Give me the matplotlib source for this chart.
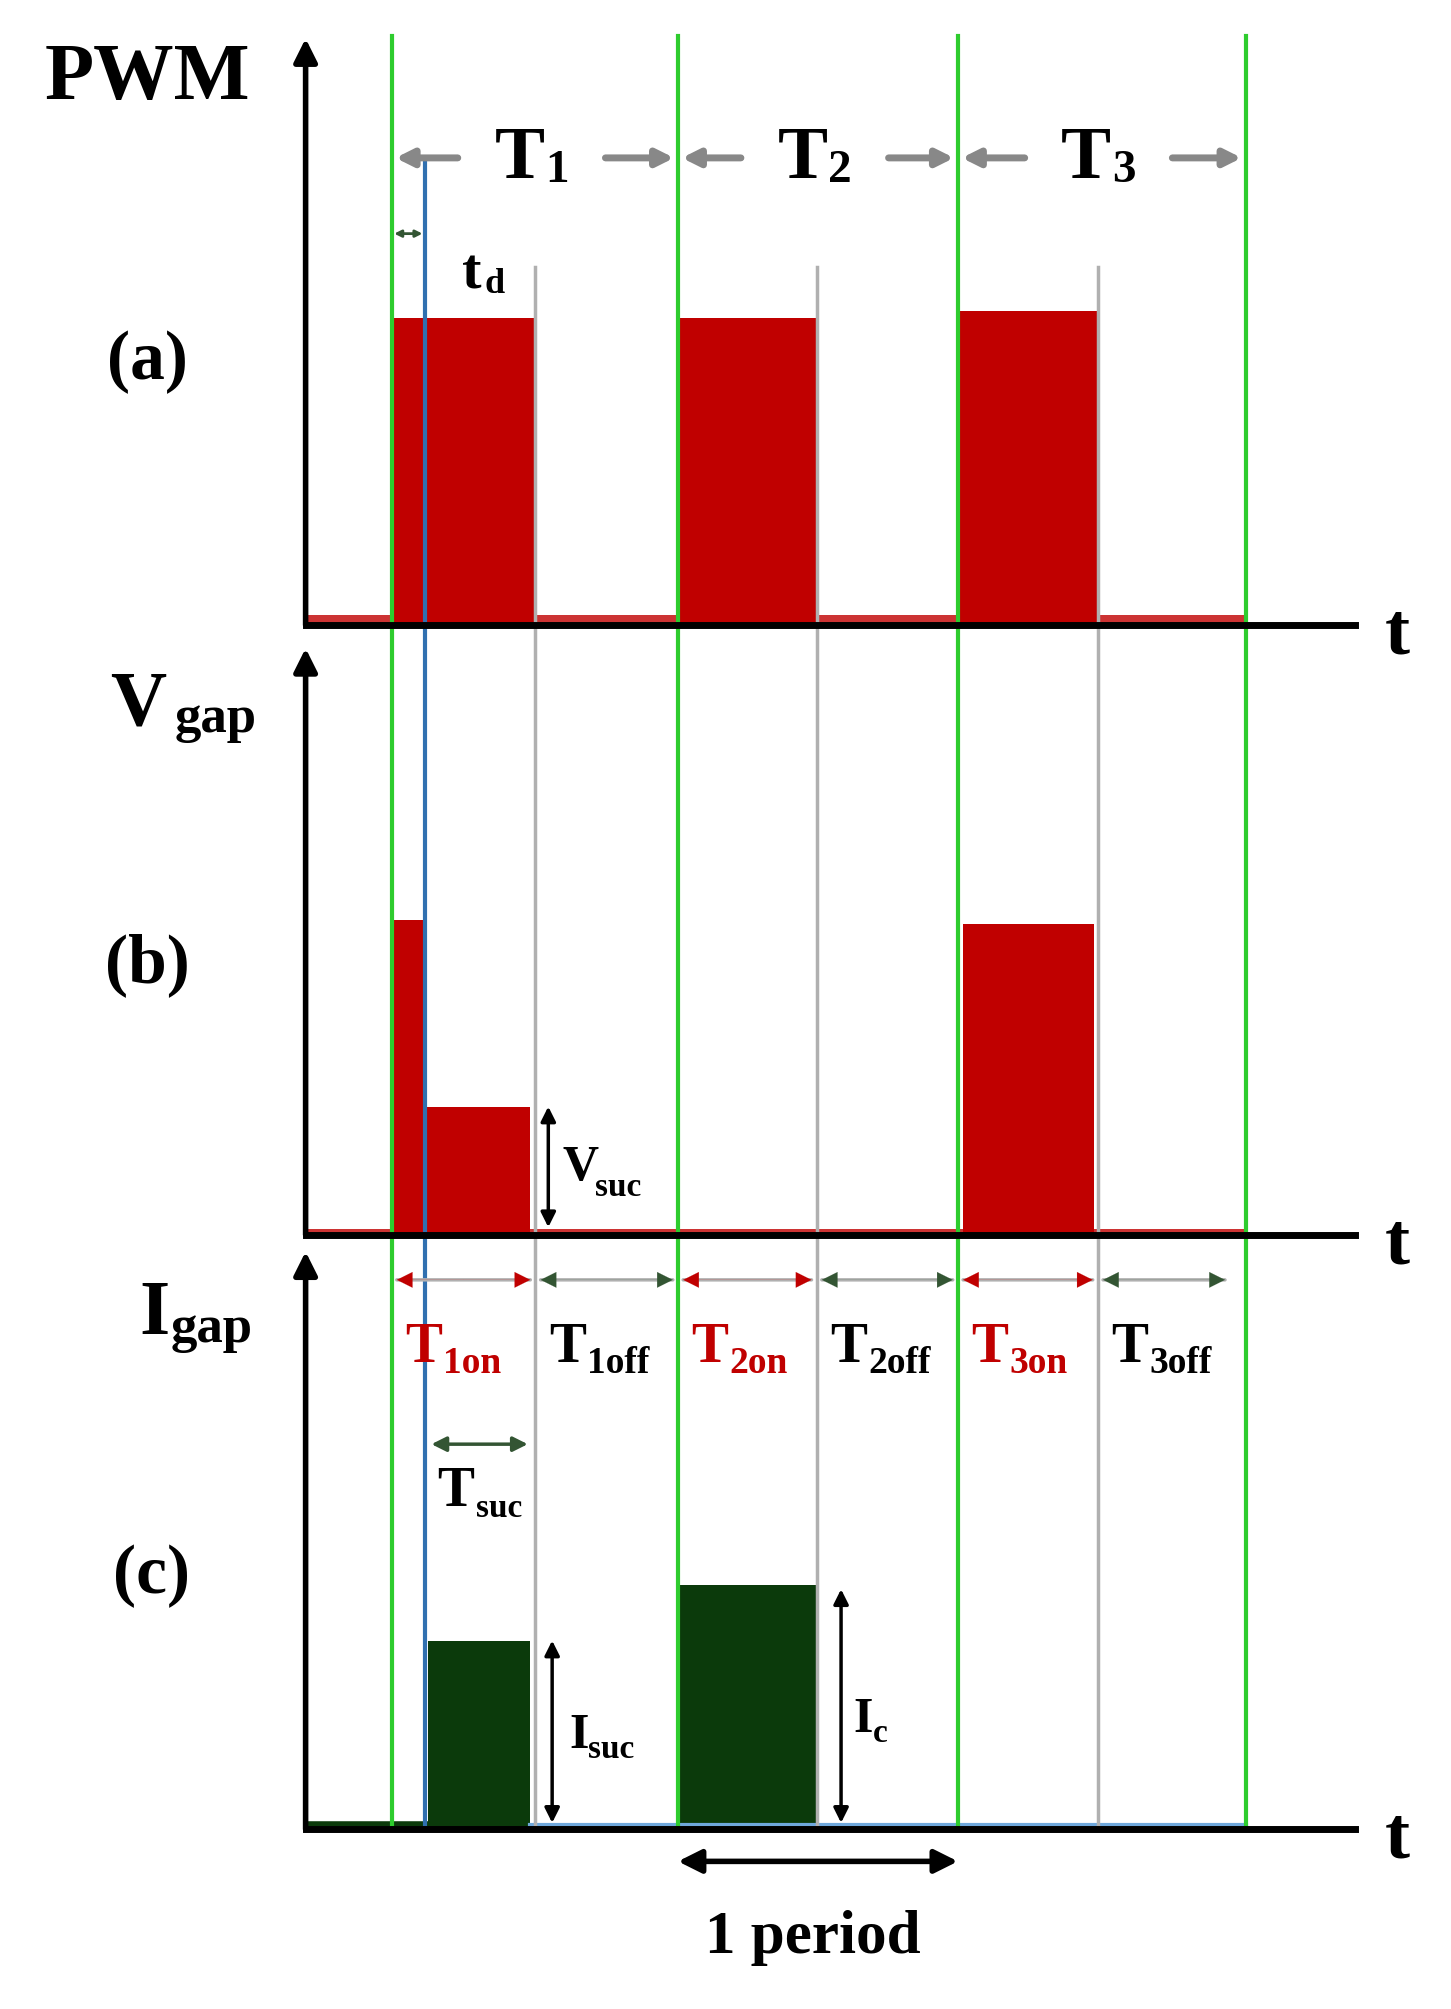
import matplotlib.pyplot as plt

# schematic time axis (drawing units, same for all three panels)
period_edges = [305, 528, 746, 970]      # green lines, start of T1, T2, T3, end
off_starts = [417, 636, 855]             # grey lines, end of on-time
td_line = 331                            # blue line, after delay td
pwm_tops = [248, 248, 242]
vgap_bars = [(305, 331, 717), (331, 413, 862), (750, 852, 720)]
igap_bars = [(333, 413, 1278), (528, 636, 1235)]
period_names = ['1', '2', '3']

bases = [487, 962, 1425]                 # baselines of panels a, b, c
axis_tops = [30, 505, 975]
RED = '#c00000'
DKGREEN = '#0b3a0b'
GREEN = '#2ecc2e'
GREY = '#b0b0b0'
SERIF = 'Liberation Serif'

fig = plt.figure(figsize=(14.51, 20.09), dpi=100)
ax = fig.add_axes([0, 0, 1, 1])
ax.set_xlim(0, 1130)
ax.set_ylim(1565, 0)
ax.axis('off')


def txt(x, y, s, size, color='black', ha='center'):
    ax.text(x, y, s, fontsize=size, color=color, family=SERIF, fontweight='bold',
            ha=ha, va='center')


def arrow(x0, y0, x1, y1, color='black', lw=3, style='<|-|>', ms=25):
    ax.annotate('', xy=(x1, y1), xytext=(x0, y0),
                arrowprops=dict(arrowstyle=style, color=color, lw=lw,
                                mutation_scale=ms, shrinkA=0, shrinkB=0))


# panel a: PWM bars and low strip
for i in range(3):
    ax.fill_between([period_edges[i], off_starts[i]], pwm_tops[i], bases[0], color=RED, lw=0)
strip = [(240, 305)] + [(off_starts[i], period_edges[i + 1]) for i in range(3)]
for a, b in strip:
    ax.fill_between([a, b], bases[0] - 8, bases[0], color=RED, lw=0, alpha=0.8)

# panel b
for a, b, top in vgap_bars:
    ax.fill_between([a, b], top, bases[1], color=RED, lw=0)
for a, b in [(240, 305), (413, 750), (852, 970)]:
    ax.fill_between([a, b], bases[1] - 5, bases[1], color=RED, lw=0, alpha=0.8)

# panel c
for a, b, top in igap_bars:
    ax.fill_between([a, b], top, bases[2], color=DKGREEN, lw=0)
ax.plot([240, 333], [bases[2] - 4] * 2, color=DKGREEN, lw=4)
ax.plot([413, 970], [bases[2] - 3] * 2, color='#6fa8dc', lw=3)

# vertical guide lines
for x in period_edges:
    ax.plot([x, x], [28, bases[2]], color=GREEN, lw=3)
for x in off_starts:
    ax.plot([x, x], [208, bases[2]], color=GREY, lw=2.5)
ax.plot([td_line, td_line], [125, bases[2]], color='#3070b0', lw=3)

# axes
for base, top in zip(bases, axis_tops):
    ax.plot([238, 1055], [base, base], color='black', lw=5)
    arrow(238, base, 238, top, lw=4, style='-|>', ms=35)
    txt(1088, base + 8, 't', 54)

# y labels
txt(115, 62, 'PWM', 58)
txt(115, 282, '(a)', 50)
txt(108, 550, 'V', 56)
txt(168, 560, 'gap', 38)
txt(120, 1025, 'I', 56)
txt(165, 1035, 'gap', 38)
txt(115, 752, '(b)', 50)
txt(118, 1228, '(c)', 50)

# period arrows
for i in range(3):
    a, b = period_edges[i], period_edges[i + 1]
    mid = (a + b) / 2
    arrow(mid - 60, 123, a + 3, 123, color='#888888', style='-|>', lw=5, ms=25)
    arrow(mid + 55, 123, b - 3, 123, color='#888888', style='-|>', lw=5, ms=25)
    txt(mid - 12, 125, 'T', 54)
    txt(mid + 17, 133, period_names[i], 34)

# td
arrow(307, 182, 329, 182, color='#335533', lw=2, ms=10)
txt(367, 214, 't', 42)
txt(385, 222, 'd', 26)

# Vsuc
arrow(427, 862, 427, 956, lw=2.5, ms=22)
txt(438, 910, 'V', 36, ha='left')
txt(463, 925, 'suc', 24, ha='left')

# on/off interval arrows
marks = [period_edges[0], off_starts[0], period_edges[1], off_starts[1],
         period_edges[2], off_starts[2], period_edges[3] - 12]
for j in range(6):
    a, b = marks[j], marks[j + 1]
    c = RED if j % 2 == 0 else '#335533'
    arrow(a + 4, 997, b - 4, 997, color=GREY, lw=2.5, style='-', ms=10)
    arrow((a + b) / 2, 997, a + 4, 997, color=c, lw=0.1, style='-|>', ms=28)
    arrow((a + b) / 2, 997, b - 4, 997, color=c, lw=0.1, style='-|>', ms=28)
    k = j // 2 + 1
    col = RED if j % 2 == 0 else 'black'
    txt(a + 25, 1050, 'T', 40, color=col)
    txt(a + 40, 1062, f"{k}{'on' if j % 2 == 0 else 'off'}", 27, color=col, ha='left')

# Tsuc
arrow(336, 1125, 411, 1125, color='#335533', lw=2.5, ms=22)
txt(355, 1162, 'T', 40)
txt(371, 1175, 'suc', 24, ha='left')

# Isuc, Ic
arrow(430, 1278, 430, 1420, lw=2.5, ms=22)
txt(451, 1352, 'I', 36)
txt(458, 1363, 'suc', 24, ha='left')
arrow(655, 1238, 655, 1420, lw=2.5, ms=22)
txt(672, 1340, 'I', 36)
txt(680, 1350, 'c', 24, ha='left')

# 1 period
arrow(period_edges[1], 1450, period_edges[2], 1450, lw=4, ms=35)
txt(633, 1510, '1 period', 44)

fig.savefig('out.png', dpi=100)
